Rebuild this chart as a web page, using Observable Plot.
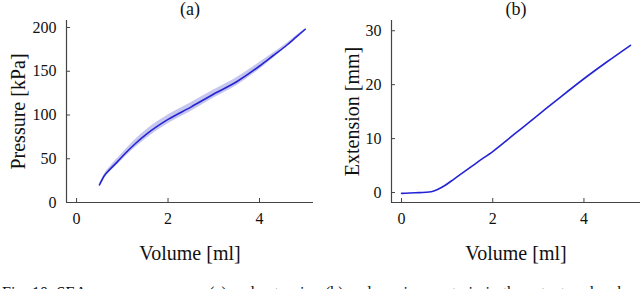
<!DOCTYPE html>
<html>
<head>
<meta charset="utf-8">
<script src="https://cdn.jsdelivr.net/npm/d3@7"></script>
<script src="https://cdn.jsdelivr.net/npm/@observablehq/plot@0.6"></script>
<style>
  html, body { margin: 0; padding: 0; background: #fff; overflow: hidden; }
  #wrap { position: relative; width: 640px; height: 289px; overflow: hidden; }
  #pa { position: absolute; left: 0; top: 0; }
  #pb { position: absolute; left: 320px; top: 0; }
  #cap { position: absolute; left: 2px; top: 284px; width: 636px; font-family: "Liberation Serif", "Times New Roman", serif; font-size: 16px; line-height: 18px; text-align: justify; color: #111; }
  svg text { font-family: "Liberation Serif", "Times New Roman", serif !important; font-weight: normal !important; }
</style>
</head>
<body>
<div id="wrap">
  <div id="pa"></div>
  <div id="pb"></div>
  <div id="cap">Fig. 10. SEA pressure response (a) and extension (b) and maximum strain in the actuator chamber as functions of the injected fluid volume during quasi-static inflation tests.</div>
</div>
<script>
// Panel (a): pressure vs volume (mean and spread)
const volumeA   = [0.5, 0.6, 0.75, 0.9, 1.1, 1.3, 1.55, 2.0, 2.5, 3.0, 3.5, 4.0, 4.3, 4.6, 4.8, 5.0];
const pressureA = [20, 30, 39, 47, 58, 68, 79, 95, 109, 124, 138, 156, 168, 180, 189, 198];
const spreadA   = [0.5, 1.5, 3, 3.5, 4, 4.5, 5, 5, 5, 4.5, 4.5, 4, 3, 2, 1.5, 0.5];
// Panel (b): extension vs volume
const volumeB    = [0, 0.3, 0.65, 0.8, 0.95, 1.15, 1.4, 1.66, 2.0, 2.5, 3.0, 3.5, 4.0, 4.5, 5.02];
const extensionB = [-0.15, -0.05, 0.15, 0.6, 1.3, 2.5, 4.0, 5.6, 7.6, 11.0, 14.4, 17.8, 21.1, 24.2, 27.3];
// Axis ticks / domains
const xTicks = [0, 2, 4];
const yTicksA = [0, 50, 100, 150, 200];
const yTicksB = [0, 10, 20, 30];
const xDomainA = [-0.22, 5.18];
const xDomainB = [-0.22, 5.24];
const yDomainA = [0, 208];
const yDomainB = [-1.85, 31.9];

const dataA = volumeA.map((v, i) => ({v, p: pressureA[i], lo: pressureA[i] - spreadA[i], hi: pressureA[i] + spreadA[i]}));
const dataB = volumeB.map((v, i) => ({v, e: extensionB[i]}));

const FONT = '"Liberation Serif", "Times New Roman", serif';
const AXC = "#444";
const LINE = "#2424d4";
const BAND = "#c6c6ef";
const fmt = d => String(d);

function panel({data, y, xDomain, yDomain, yTicks, yLabel, yLabelOffset, marginLeft, marginRight, title, extra}) {
  return Plot.plot({
    width: 320, height: 262,
    marginLeft, marginRight, marginTop: 20, marginBottom: 60,
    style: {fontFamily: FONT, fontSize: "16px", background: "#fff", color: "#111", overflow: "visible"},
    x: {domain: xDomain},
    y: {domain: yDomain},
    marks: [
      ...(extra || []),
      Plot.line(data, {x: "v", y, stroke: LINE, strokeWidth: 1.6, curve: "monotone-x"}),
      Plot.ruleX([xDomain[0]], {stroke: AXC, strokeWidth: 1.2}),
      Plot.ruleY([yDomain[0]], {stroke: AXC, strokeWidth: 1.2}),
      Plot.axisX({ticks: xTicks, tickFormat: fmt, tickSize: -4, tickPadding: 14, stroke: AXC, fill: "#111", fontSize: 16, label: "Volume [ml]", labelAnchor: "center", labelOffset: 57, labelArrow: false}),
      Plot.axisY({ticks: yTicks, tickFormat: fmt, tickSize: -4, tickPadding: 14, stroke: AXC, fill: "#111", fontSize: 16, label: yLabel, labelAnchor: "center", labelOffset: yLabelOffset, labelArrow: false}),
      Plot.text([title], {frameAnchor: "top", dy: -11.5, lineAnchor: "middle", fontSize: 18, fill: "#111"})
    ]
  });
}

const pa = panel({
  data: dataA, y: "p", xDomain: xDomainA, yDomain: yDomainA, yTicks: yTicksA,
  yLabel: "Pressure [kPa]", yLabelOffset: 56, marginLeft: 66, marginRight: 7, title: "(a)",
  extra: [Plot.areaY(dataA, {x: "v", y1: "lo", y2: "hi", fill: BAND, curve: "monotone-x"})]
});
const pb = panel({
  data: dataB, y: "e", xDomain: xDomainB, yDomain: yDomainB, yTicks: yTicksB,
  yLabel: "Extension [mm]", yLabelOffset: 47, marginLeft: 71, marginRight: 0, title: "(b)"
});
[pa, pb].forEach(svg => {
  svg.querySelectorAll('[aria-label="y-axis label"] text, [aria-label="x-axis label"] text, [aria-label="y-axis label"], [aria-label="x-axis label"]').forEach(t => { t.setAttribute("font-size", 20); t.setAttribute("font-weight", "normal"); t.setAttribute("fill", "#111"); });
});
document.getElementById("pa").appendChild(pa);
document.getElementById("pb").appendChild(pb);
</script>
</body>
</html>
